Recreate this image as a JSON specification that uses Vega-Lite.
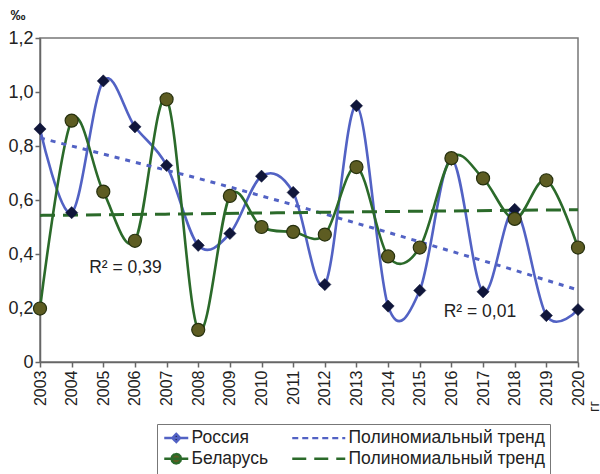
{
  "$schema": "https://vega.github.io/schema/vega-lite/v6.json",
  "width": 538,
  "height": 324,
  "autosize": {"type": "none"},
  "padding": {"left": 40, "top": 38, "right": 22, "bottom": 112},
  "background": "white",
  "config": {
    "font": "Liberation Sans",
    "view": {"stroke": "#777", "strokeWidth": 1.5},
    "axis": {"grid": false, "domainColor": "#666", "tickColor": "#666", "labelColor": "#222", "titleColor": "#222", "labelFont": "Liberation Sans", "titleFont": "Liberation Sans", "domainWidth": 1.5, "tickWidth": 1.5}
  },
  "data": {"values": [
    {"year": 2003, "value": 0.863, "series": "Россия"},
    {"year": 2004, "value": 0.553, "series": "Россия"},
    {"year": 2005, "value": 1.041, "series": "Россия"},
    {"year": 2006, "value": 0.871, "series": "Россия"},
    {"year": 2007, "value": 0.728, "series": "Россия"},
    {"year": 2008, "value": 0.432, "series": "Россия"},
    {"year": 2009, "value": 0.476, "series": "Россия"},
    {"year": 2010, "value": 0.688, "series": "Россия"},
    {"year": 2011, "value": 0.628, "series": "Россия"},
    {"year": 2012, "value": 0.287, "series": "Россия"},
    {"year": 2013, "value": 0.949, "series": "Россия"},
    {"year": 2014, "value": 0.207, "series": "Россия"},
    {"year": 2015, "value": 0.265, "series": "Россия"},
    {"year": 2016, "value": 0.750, "series": "Россия"},
    {"year": 2017, "value": 0.260, "series": "Россия"},
    {"year": 2018, "value": 0.565, "series": "Россия"},
    {"year": 2019, "value": 0.172, "series": "Россия"},
    {"year": 2020, "value": 0.194, "series": "Россия"},
    {"year": 2003, "value": 0.198, "series": "Беларусь"},
    {"year": 2004, "value": 0.894, "series": "Беларусь"},
    {"year": 2005, "value": 0.631, "series": "Беларусь"},
    {"year": 2006, "value": 0.449, "series": "Беларусь"},
    {"year": 2007, "value": 0.973, "series": "Беларусь"},
    {"year": 2008, "value": 0.119, "series": "Беларусь"},
    {"year": 2009, "value": 0.615, "series": "Беларусь"},
    {"year": 2010, "value": 0.500, "series": "Беларусь"},
    {"year": 2011, "value": 0.482, "series": "Беларусь"},
    {"year": 2012, "value": 0.472, "series": "Беларусь"},
    {"year": 2013, "value": 0.722, "series": "Беларусь"},
    {"year": 2014, "value": 0.391, "series": "Беларусь"},
    {"year": 2015, "value": 0.424, "series": "Беларусь"},
    {"year": 2016, "value": 0.755, "series": "Беларусь"},
    {"year": 2017, "value": 0.680, "series": "Беларусь"},
    {"year": 2018, "value": 0.530, "series": "Беларусь"},
    {"year": 2019, "value": 0.673, "series": "Беларусь"},
    {"year": 2020, "value": 0.424, "series": "Беларусь"},
    {"year": 2003, "value": 0.830, "series": "Тренд Россия"},
    {"year": 2004, "value": 0.800, "series": "Тренд Россия"},
    {"year": 2005, "value": 0.770, "series": "Тренд Россия"},
    {"year": 2006, "value": 0.740, "series": "Тренд Россия"},
    {"year": 2007, "value": 0.710, "series": "Тренд Россия"},
    {"year": 2008, "value": 0.680, "series": "Тренд Россия"},
    {"year": 2009, "value": 0.648, "series": "Тренд Россия"},
    {"year": 2010, "value": 0.615, "series": "Тренд Россия"},
    {"year": 2011, "value": 0.582, "series": "Тренд Россия"},
    {"year": 2012, "value": 0.548, "series": "Тренд Россия"},
    {"year": 2013, "value": 0.514, "series": "Тренд Россия"},
    {"year": 2014, "value": 0.480, "series": "Тренд Россия"},
    {"year": 2015, "value": 0.445, "series": "Тренд Россия"},
    {"year": 2016, "value": 0.410, "series": "Тренд Россия"},
    {"year": 2017, "value": 0.375, "series": "Тренд Россия"},
    {"year": 2018, "value": 0.340, "series": "Тренд Россия"},
    {"year": 2019, "value": 0.303, "series": "Тренд Россия"},
    {"year": 2020, "value": 0.267, "series": "Тренд Россия"},
    {"year": 2003, "value": 0.543, "series": "Тренд Беларусь"},
    {"year": 2008, "value": 0.549, "series": "Тренд Беларусь"},
    {"year": 2013, "value": 0.556, "series": "Тренд Беларусь"},
    {"year": 2020, "value": 0.564, "series": "Тренд Беларусь"}
  ]},
  "encoding": {
    "x": {
      "field": "year", "type": "quantitative",
      "scale": {"domain": [2003, 2020], "nice": false, "zero": false},
      "axis": {
        "values": [2003,2004,2005,2006,2007,2008,2009,2010,2011,2012,2013,2014,2015,2016,2017,2018,2019,2020],
        "format": "d", "labelAngle": 270, "labelAlign": "right", "labelBaseline": "middle",
        "labelFontSize": 16, "tickSize": 5, "labelPadding": 3, "labelOverlap": false, "labelBound": false, "labelFlush": false,
        "title": "гг", "titleAngle": 270, "titleX": 553, "titleY": 44, "titleAlign": "center", "titleBaseline": "middle",
        "titleFontSize": 15, "titleFontWeight": "normal"
      }
    },
    "y": {
      "field": "value", "type": "quantitative",
      "scale": {"domain": [0, 1.2], "nice": false},
      "axis": {
        "values": [0, 0.2, 0.4, 0.6, 0.8, 1.0, 1.2],
        "labelExpr": "datum.value == 0 ? '0' : replace(format(datum.value, '.1f'), '.', ',')",
        "labelFontSize": 18, "tickSize": 5, "labelPadding": 2, "labelFlush": false,
        "title": "‰", "titleAngle": 0, "titleX": -30, "titleY": -24, "titleAlign": "left", "titleBaseline": "middle",
        "titleFontSize": 15, "titleFontWeight": "bold"
      }
    }
  },
  "layer": [
    {
      "transform": [{"filter": "datum.series == 'Россия' || datum.series == 'Беларусь'"}],
      "mark": {"type": "line", "interpolate": "cardinal", "strokeWidth": 2.6},
      "encoding": {
        "color": {
          "field": "series", "type": "nominal",
          "scale": {"domain": ["Россия", "Тренд Россия", "Беларусь", "Тренд Беларусь"], "range": ["#5262c4", "#5262c4", "#2b6a2a", "#2b6a2a"]},
          "legend": {
            "title": null, "orient": "none", "legendX": 117, "legendY": 386, "direction": "horizontal", "columns": 2,
            "strokeColor": "#777", "padding": 5, "labelFontSize": 17.5, "labelColor": "#222", "labelFont": "Liberation Sans", "labelLimit": 400,
            "symbolSize": 100, "symbolStrokeWidth": 2.4, "rowPadding": 2, "columnPadding": 18, "labelOffset": 12,
            "labelExpr": "indexof(datum.label, 'Тренд') == 0 ? 'Полиномиальный тренд' : datum.label",
            "encode": {"symbols": {"update": {
              "shape": {"signal": "datum.value == 'Россия' ? 'M-1.3,0H3.5M0.3,0L1.1,-0.8L1.9,0L1.1,0.8Z' : datum.value == 'Беларусь' ? 'M-1.3,0H3.5M2.05,0L1.923,0.475L1.575,0.823L1.1,0.95L0.625,0.823L0.277,0.475L0.15,0L0.277,-0.475L0.625,-0.823L1.1,-0.95L1.575,-0.823L1.923,-0.475Z' : 'M-7.1,0H3.5'"},
              "fill": {"signal": "datum.value == 'Россия' ? '#10163a' : datum.value == 'Беларусь' ? '#5d5c22' : 'transparent'"},
              "strokeDash": {"signal": "datum.value == 'Тренд Россия' ? [6,4] : datum.value == 'Тренд Беларусь' ? [14,8] : [1,0]"},
              "opacity": {"value": 1}
            }}}
          }
        },
        "detail": {"field": "series"}
      }
    },
    {
      "transform": [{"filter": "datum.series == 'Тренд Россия' || datum.series == 'Тренд Беларусь'"}],
      "mark": {"type": "line", "interpolate": "monotone", "strokeWidth": 3},
      "encoding": {
        "color": {"field": "series", "type": "nominal"},
        "strokeDash": {
          "field": "series", "type": "nominal",
          "scale": {"domain": ["Тренд Россия", "Тренд Беларусь"], "range": [[5, 6], [15, 8]]},
          "legend": null
        }
      }
    },
    {
      "transform": [{"filter": "datum.series == 'Россия'"}],
      "mark": {"type": "point", "shape": "diamond", "filled": true, "size": 150, "fill": "#10163a", "stroke": "#10163a", "strokeWidth": 0.5, "opacity": 1},
      "encoding": {}
    },
    {
      "transform": [{"filter": "datum.series == 'Беларусь'"}],
      "mark": {"type": "point", "shape": "circle", "filled": true, "size": 170, "fill": "#5d5c22", "stroke": "#26300e", "strokeWidth": 1.2, "opacity": 1},
      "encoding": {}
    },
    {
      "transform": [{"filter": "datum.series == 'Россия' && datum.year == 2003"}],
      "mark": {"type": "text", "fontSize": 17.5, "font": "Liberation Sans", "color": "#222", "text": "R² = 0,39"},
      "encoding": {"x": {"datum": 2005.7}, "y": {"datum": 0.35}}
    },
    {
      "transform": [{"filter": "datum.series == 'Россия' && datum.year == 2003"}],
      "mark": {"type": "text", "fontSize": 17.5, "font": "Liberation Sans", "color": "#222", "text": "R² = 0,01"},
      "encoding": {"x": {"datum": 2016.9}, "y": {"datum": 0.185}}
    }
  ]
}
